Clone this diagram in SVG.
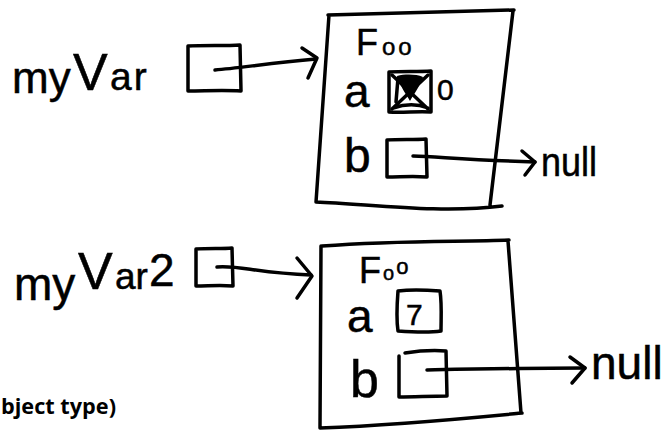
<svg xmlns="http://www.w3.org/2000/svg" width="668" height="431" viewBox="0 0 668 431">
  <style>
    .ink { fill: none; stroke: #000; stroke-width: 3.5; stroke-linecap: round; stroke-linejoin: round; }
    .hand { font-family: "Liberation Sans", "DejaVu Sans", sans-serif; fill: #000; stroke: #000; stroke-width: 0.5; }
    .note { font-family: "Open Sans", "Liberation Sans", sans-serif; font-weight: bold; fill: #000; }
  </style>
  <rect width="668" height="431" fill="#fff"/>

  <!-- variable myVar -->
  <g id="myVar">
    <text class="hand" font-size="44"><tspan x="12" y="93">my</tspan><tspan x="73" y="90" font-size="52">V</tspan><tspan x="110" y="90" font-size="39" letter-spacing="2">ar</tspan></text>
    <path class="ink" d="M188,46 C205,45 225,46 240,45 L241,91 C222,90 205,91 188,91 Z"/>
  </g>

  <!-- variable myVar2 -->
  <g id="myVar2">
    <text class="hand" font-size="46"><tspan x="14" y="300">my</tspan><tspan x="78" y="289" font-size="52">V</tspan><tspan x="115" y="289" font-size="37">ar</tspan><tspan x="149" y="286" font-size="46">2</tspan></text>
    <path class="ink" d="M196,249 C210,248 222,249 232,248 L233,286 C220,285 208,286 196,286 Z"/>
  </g>

  <!-- first Foo object -->
  <g id="foo1">
    <path class="ink" d="M328,15 C390,13 460,12 514,10 M513,11 L490,205 M329,15 L316,202 M316,202 C370,204 440,214 502,206"/>
    <text class="hand" font-size="36" x="356" y="55">F<tspan font-size="24" dx="4">o</tspan><tspan font-size="24" dx="3">o</tspan></text>
    <text class="hand" font-size="46" x="344" y="107">a</text>
    <!-- field a: crossed-out value -->
    <path class="ink" d="M389,72 C403,71 418,72 431,71 L431,112 C417,111 403,113 389,112 Z"/>
    <path class="ink" d="M392,75 L428,109 M428,75 L392,109 M393,108 C405,104 418,104 428,108"/>
    <path d="M397,76 C405,74 416,74 423,77 C420,86 414,94 410,101 C406,94 400,86 397,76 Z" fill="#000"/>
    <path class="ink" d="M398,78 L396,102"/>
    <text class="hand" font-size="30" x="437" y="100">0</text>
    <text class="hand" font-size="48" x="344" y="172">b</text>
    <!-- field b -->
    <path class="ink" d="M387,140 C400,139 414,140 426,139 L427,177 C413,176 400,177 387,177 Z"/>
  </g>

  <!-- second Foo object -->
  <g id="foo2">
    <path class="ink" d="M322,246 C400,240 460,242 509,240 M508,241 L521,413 M321,246 L320,428 M320,428 C400,425 470,418 522,413"/>
    <text class="hand" font-size="36" x="359" y="283">F<tspan font-size="20" dx="2" dy="-3">o</tspan><tspan font-size="22" dx="2" dy="-6">o</tspan></text>
    <text class="hand" font-size="46" x="347" y="332">a</text>
    <!-- field a: value 7 -->
    <path class="ink" d="M398,291 C412,289 428,290 440,291 C442,304 441,318 441,331 C428,333 412,332 398,331 C396,318 397,304 398,291 Z"/>
    <text class="hand" font-size="30" x="406" y="325">7</text>
    <text class="hand" font-size="52" x="350" y="397">b</text>
    <!-- field b -->
    <path class="ink" d="M399,356 L399,397 C415,397 430,396 447,396 L446,351 C433,350 418,351 405,353"/>
  </g>

  <!-- null targets -->
  <g id="null1">
    <text class="hand" font-size="40" x="541" y="176" textLength="56" lengthAdjust="spacingAndGlyphs">null</text>
  </g>
  <g id="null2">
    <text class="hand" font-size="46" x="591" y="379">null</text>
  </g>

  <!-- references -->
  <g id="connectors">
    <path class="ink" d="M215,70 C240,68 270,63 316,59"/>
    <path class="ink" d="M302,48 L317,58 L308,78"/>
    <path class="ink" d="M217,267 C240,265 255,273 311,275"/>
    <path class="ink" d="M297,258 L312,276 L297,298"/>
    <path class="ink" d="M413,156 C440,157 470,160 535,162"/>
    <path class="ink" d="M522,151 L535,162 L525,175"/>
    <path class="ink" d="M427,370 C480,369 530,368 585,368"/>
    <path class="ink" d="M570,357 L585,368 L572,383"/>
  </g>

  <text class="note" x="1" y="414" font-size="22" textLength="115" lengthAdjust="spacingAndGlyphs">bject type)</text>
</svg>
